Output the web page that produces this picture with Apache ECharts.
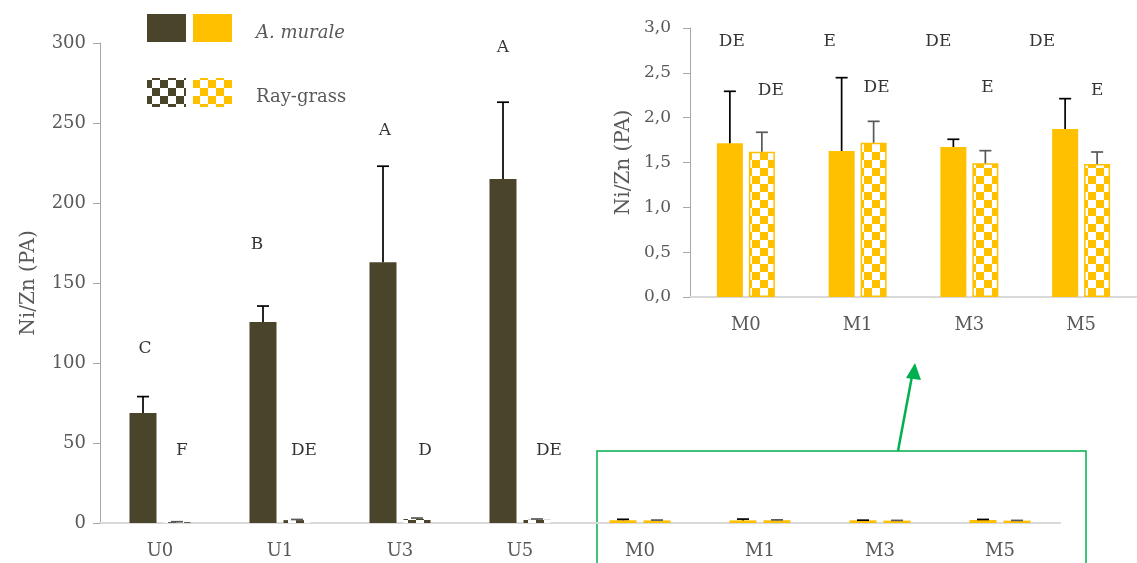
<!DOCTYPE html>
<html><head><meta charset="utf-8">
<script src="https://cdn.jsdelivr.net/npm/echarts@6/dist/echarts.min.js"></script>
<style>html,body{margin:0;padding:0;background:#fff}#c{width:1137px;height:563px}</style>
</head><body><div id="c"></div>
<script>
// ---------- data ----------
const categories = ['U0', 'U1', 'U3', 'U5', 'M0', 'M1', 'M3', 'M5'];
const insetCategories = ['M0', 'M1', 'M3', 'M5'];
const muraleMean = [68.7, 125.6, 163, 215, 1.714, 1.628, 1.673, 1.874];
const muraleErr  = [10.3, 10.0, 60, 48, 0.58, 0.818, 0.086, 0.338];
const rayMean    = [0.5, 1.8, 2.5, 2.0, 1.621, 1.721, 1.491, 1.483];
const rayErr     = [0.3, 0.4, 0.6, 0.5, 0.216, 0.238, 0.141, 0.134];
const mainTicks  = [0, 50, 100, 150, 200, 250, 300];
const insetTicks = [0, 0.5, 1, 1.5, 2, 2.5, 3];
const mainMuraleLetters = ['C', 'B', 'A', 'A'];
const mainMuraleLetterY = [109, 174, 245, 297];
const mainRayLetters    = ['F', 'DE', 'D', 'DE'];
const mainRayLetterY    = [45, 45, 45, 45];
const insetMuraleLetters = ['DE', 'E', 'DE', 'DE'];
const insetMuraleLetterY = [2.85, 2.85, 2.85, 2.85];
const insetRayLetters    = ['DE', 'DE', 'E', 'E'];
const insetRayLetterY    = [2.30, 2.33, 2.33, 2.30];
const legendNames = ['A. murale', 'Ray-grass'];

// ---------- styles ----------
const DARK = '#4a442a', YEL = '#ffc000', GREEN = '#00b050';
const FONT = 'DejaVu Serif', LBL = '#595959';
function checker(c) {
  const cv = document.createElement('canvas'); cv.width = 16; cv.height = 16;
  const g = cv.getContext('2d'); g.fillStyle = '#fff'; g.fillRect(0, 0, 16, 16);
  g.fillStyle = c; g.fillRect(0, 0, 8, 8); g.fillRect(8, 8, 8, 8);
  return { image: cv, repeat: 'repeat' };
}
const darkChk = checker(DARK), yelChk = checker(YEL);
const nU = 4;
const isU = i => i < nU;
const insetIdx = insetCategories.map(c => categories.indexOf(c));

function errSeries(name, xi, yi, means, errs, dx, color, cap) {
  return {
    type: 'custom', name, xAxisIndex: xi, yAxisIndex: yi, z: 5, silent: true,
    data: means.map((m, i) => [i, m, m + errs[i]]),
    renderItem(params, api) {
      const p0 = api.coord([api.value(0), api.value(1)]);
      const p1 = api.coord([api.value(0), api.value(2)]);
      const x = p0[0] + dx, st = { stroke: color, lineWidth: 1.7 };
      return { type: 'group', children: [
        { type: 'line', shape: { x1: x, y1: p0[1], x2: x, y2: p1[1] }, style: st },
        { type: 'line', shape: { x1: x - cap, y1: p1[1], x2: x + cap, y2: p1[1] }, style: st }
      ]};
    }
  };
}
function letterSeries(xi, yi, letters, ys, dxs) {
  return {
    type: 'scatter', xAxisIndex: xi, yAxisIndex: yi, symbolSize: 0, silent: true, z: 6,
    data: letters.map((t, i) => ({ value: [i, ys[i]], name: t,
      label: { offset: [dxs[i], 0] } })),
    label: { show: true, position: 'inside', formatter: p => p.name,
      fontFamily: FONT, fontSize: 17, color: '#000' }
  };
}

const insetMurale = insetIdx.map(i => muraleMean[i]);
const insetMuraleErr = insetIdx.map(i => muraleErr[i]);
const insetRay = insetIdx.map(i => rayMean[i]);
const insetRayErr = insetIdx.map(i => rayErr[i]);

const axisLabelStyle = { fontFamily: FONT, fontSize: 17, color: LBL };

const option = {
  animation: false,
  backgroundColor: '#fff',
  grid: [
    { left: 100, top: 43, width: 960, height: 480 },
    { left: 690, top: 28, width: 456, height: 269 }
  ],
  xAxis: [
    { type: 'category', gridIndex: 0, data: categories,
      axisLine: { lineStyle: { color: '#d9d9d9', width: 2 } }, axisTick: { show: false },
      axisLabel: Object.assign({}, axisLabelStyle, { margin: 19, fontSize: 18 }) },
    { type: 'category', gridIndex: 1, data: insetCategories,
      axisLine: { lineStyle: { color: '#d9d9d9', width: 2 } }, axisTick: { show: false },
      axisLabel: Object.assign({}, axisLabelStyle, { margin: 19, fontSize: 18 }) }
  ],
  yAxis: [
    { type: 'value', gridIndex: 0, min: mainTicks[0], max: mainTicks[mainTicks.length - 1],
      interval: mainTicks[1] - mainTicks[0],
      name: 'Ni/Zn (PA)', nameLocation: 'middle', nameGap: 61, nameRotate: 90,
      nameTextStyle: { fontFamily: FONT, fontSize: 20, color: LBL },
      axisLine: { show: true, lineStyle: { color: '#a6a6a6' } },
      axisTick: { show: true, length: 7, lineStyle: { color: '#a6a6a6' } },
      splitLine: { show: false },
      axisLabel: Object.assign({}, axisLabelStyle, { margin: 14, fontSize: 18 }) },
    { type: 'value', gridIndex: 1, min: insetTicks[0], max: insetTicks[insetTicks.length - 1],
      interval: insetTicks[1] - insetTicks[0],
      name: 'Ni/Zn (PA)', nameLocation: 'middle', nameGap: 56, nameRotate: 90,
      nameTextStyle: { fontFamily: FONT, fontSize: 20, color: LBL },
      axisLine: { show: true, lineStyle: { color: '#a6a6a6' } },
      axisTick: { show: true, length: 7, lineStyle: { color: '#a6a6a6' } },
      splitLine: { show: false },
      axisLabel: Object.assign({ margin: 19, formatter: v => v.toFixed(1).replace('.', ',') }, axisLabelStyle) }
  ],
  series: [
    { type: 'bar', name: legendNames[0], xAxisIndex: 0, yAxisIndex: 0, barWidth: 27, barGap: '26%',
      data: muraleMean.map((v, i) => ({ value: v, itemStyle: { color: isU(i) ? DARK : YEL } })) },
    { type: 'bar', name: legendNames[1], xAxisIndex: 0, yAxisIndex: 0, barWidth: 27,
      data: rayMean.map((v, i) => ({ value: v, itemStyle: isU(i) ? { color: darkChk } :
        { color: yelChk, borderColor: YEL, borderWidth: 1.5 } })) },
    errSeries('e1', 0, 0, muraleMean, muraleErr, -17, '#000', 6),
    errSeries('e2', 0, 0, rayMean, rayErr, 17, '#595959', 6),
    letterSeries(0, 0, mainMuraleLetters, mainMuraleLetterY, [-15, -23, -15, -17]),
    letterSeries(0, 0, mainRayLetters, mainRayLetterY, [22, 24, 25, 29]),

    { type: 'bar', name: legendNames[0] + ' inset', xAxisIndex: 1, yAxisIndex: 1, barWidth: 26, barGap: '23%',
      itemStyle: { color: YEL }, data: insetMurale },
    { type: 'bar', name: legendNames[1] + ' inset', xAxisIndex: 1, yAxisIndex: 1, barWidth: 26,
      itemStyle: { color: yelChk, borderColor: YEL, borderWidth: 1.5 }, data: insetRay },
    errSeries('e3', 1, 1, insetMurale, insetMuraleErr, -16, '#000', 6),
    errSeries('e4', 1, 1, insetRay, insetRayErr, 16, '#595959', 6),
    letterSeries(1, 1, insetMuraleLetters, insetMuraleLetterY, [-14, -28, -31, -39]),
    letterSeries(1, 1, insetRayLetters, insetRayLetterY, [25, 19, 18, 16])
  ],
  graphic: [
    { type: 'rect', shape: { x: 147, y: 14, width: 39, height: 28 }, style: { fill: DARK } },
    { type: 'rect', shape: { x: 193, y: 14, width: 39, height: 28 }, style: { fill: YEL } },
    { type: 'rect', shape: { x: 147, y: 78, width: 39, height: 29 }, style: { fill: darkChk } },
    { type: 'rect', shape: { x: 193, y: 78, width: 39, height: 29 }, style: { fill: yelChk } },
    { type: 'text', x: 256, y: 33, style: { text: legendNames[0], fontFamily: FONT, fontSize: 18,
      fontStyle: 'italic', fill: LBL, verticalAlign: 'middle' } },
    { type: 'text', x: 256, y: 97, style: { text: legendNames[1], fontFamily: FONT, fontSize: 18,
      fill: LBL, verticalAlign: 'middle' } },
    { type: 'rect', shape: { x: 597, y: 451, width: 489, height: 130 },
      style: { fill: 'none', stroke: GREEN, lineWidth: 1.5 } },
    { type: 'line', shape: { x1: 898, y1: 451, x2: 912, y2: 376 },
      style: { stroke: GREEN, lineWidth: 2.5 } },
    { type: 'polygon', shape: { points: [[915, 363], [906, 378], [921, 380]] },
      style: { fill: GREEN } }
  ]
};
const chart = echarts.init(document.getElementById('c'), null, { renderer: 'canvas' });
chart.setOption(option);
</script>
</body></html>
